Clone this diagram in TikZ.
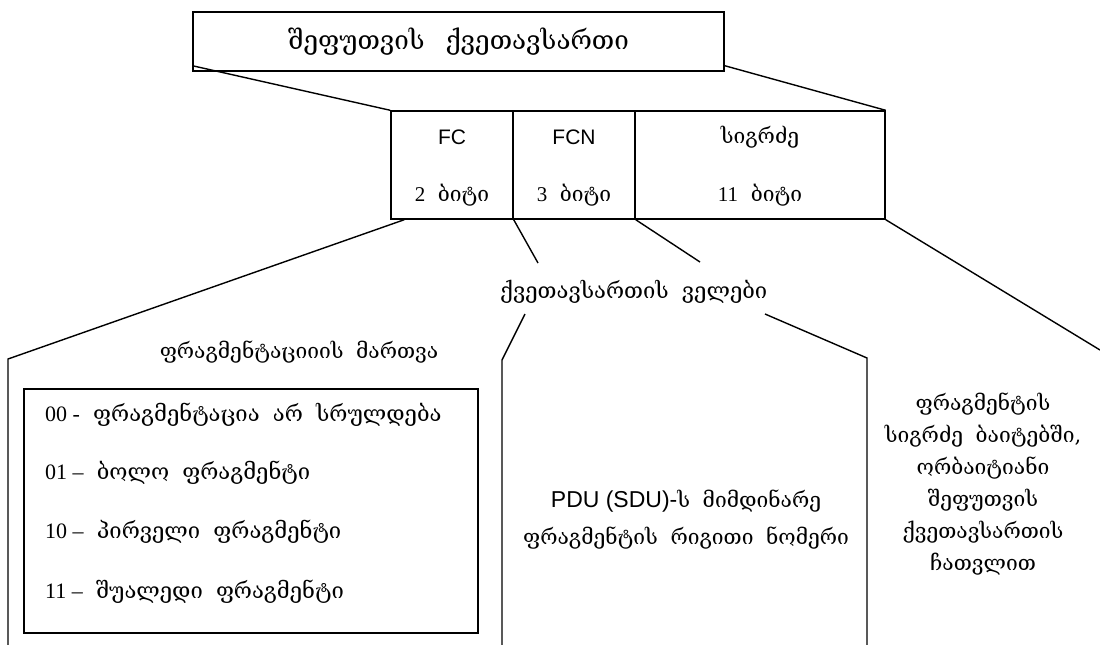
\documentclass[tikz,border=0pt]{standalone}
\usepackage{fontspec}
\setmainfont{Liberation Serif}
\newfontfamily\geofont{DejaVu Serif}
\newfontfamily\arialfont{Liberation Sans}
\usetikzlibrary{calc}
\newcommand\ka[1]{{\geofont #1}}
\newcommand\gap{\hspace{0.6em}}
\begin{document}
\begin{tikzpicture}[x=1pt, y=-1pt,
  box/.style={draw, line width=1.4pt, inner sep=0pt},
  wire/.style={line width=1.4pt},
  txt/.style={inner sep=0pt, font=\fontsize{21}{25}\selectfont},
  sans/.style={inner sep=0pt, font=\arialfont\fontsize{21}{25}\selectfont}]
\useasboundingbox (0,0) rectangle (1100,645);

% packet sub-header
\node[box, minimum width=531pt, minimum height=59pt, font=\fontsize{26}{30}\selectfont]
  (hdr) at (458.5,41.5) {\ka{შეფუთვის\hspace{0.8em}ქვეთავსართი}};

% the three fields
\node[box, minimum width=122pt, minimum height=108pt] (fc)  at (452,165) {};
\node[box, minimum width=122pt, minimum height=108pt] (fcn) at (574,165) {};
\node[box, minimum width=250pt, minimum height=108pt] (len) at (760,165) {};

\node[sans] (fcname)  at (452,137) {FC};
\node[sans] (fcnname) at (574,137) {FCN};
\node[txt]  (lenname) at (760,137) {\ka{სიგრძე}};
\node[txt]  (fcbits)  at (452,195) {2\gap\ka{ბიტი}};
\node[txt]  (fcnbits) at (574,195) {3\gap\ka{ბიტი}};
\node[txt]  (lenbits) at (760,195) {11\gap\ka{ბიტი}};

% expansion of the header into its fields
\coordinate (hl) at ($(hdr.south west)+(0,-6)$);
\coordinate (hr) at ($(hdr.south east)+(0,-6)$);
\draw[wire] (hl) -- (fc.north west);
\draw[wire] (hr) -- (len.north east);

% field labels
\node[txt, anchor=west, font=\fontsize{22}{26}\selectfont] (fields) at (500,292)
  {\ka{ქვეთავსართის\gap ველები}};
\coordinate (fa) at (538,263);
\coordinate (fb) at (700,262);
\draw[wire] (fc.south east) -- (fa);
\draw[wire] (fcn.south east) -- (fb);

% FC column
\coordinate (fcfoot) at ($(fc.south west)+(14,0)$);
\coordinate (lcorner) at (8,359);
\coordinate (lbottom) at (8,645);
\draw[wire] (fcfoot) -- (lcorner) -- (lbottom);
\node[txt] (fcctl) at (299,352) {\ka{ფრაგმენტაციიის\gap მართვა}};

\node[box, minimum width=454pt, minimum height=244pt] (codes) at (251,511) {};
\begin{scope}[every node/.style={txt, anchor=west, font=\fontsize{22}{26}\selectfont}]
\node (c00) at (45,415) {00 -\gap\ka{ფრაგმენტაცია\gap არ\gap სრულდება}};
\node (c01) at (45,473) {01 –\gap\ka{ბოლო\gap ფრაგმენტი}};
\node (c10) at (45,532) {10 –\gap\ka{პირველი\gap ფრაგმენტი}};
\node (c11) at (45,592) {11 –\gap\ka{შუალედი\gap ფრაგმენტი}};
\end{scope}

% FCN column
\coordinate (ma) at (525,314);
\coordinate (mac) at (502,360);
\coordinate (mab) at (502,645);
\coordinate (mb) at (765,314);
\coordinate (mbc) at (867,358);
\coordinate (mbb) at (867,645);
\draw[wire] (ma) -- (mac) -- (mab);
\draw[wire] (mb) -- (mbc) -- (mbb);
\node[txt, align=center, font=\fontsize{21}{37}\selectfont] (fcndesc) at (686,520)
  {{\arialfont\fontsize{23}{37}\selectfont PDU (SDU)-}\ka{ს\gap მიმდინარე}\\
   \ka{ფრაგმენტის\gap რიგითი\gap ნომერი}};

% length column
\coordinate (rr) at (1100,350);
\draw[wire] (len.south east) -- (rr);
\node[txt, align=center, font=\fontsize{21}{32}\selectfont] (lendesc) at (983,484)
  {\ka{ფრაგმენტის}\\ \ka{სიგრძე\gap ბაიტებში,}\\ \ka{ორბაიტიანი}\\
   \ka{შეფუთვის}\\ \ka{ქვეთავსართის}\\ \ka{ჩათვლით}};
\end{tikzpicture}
\end{document}
